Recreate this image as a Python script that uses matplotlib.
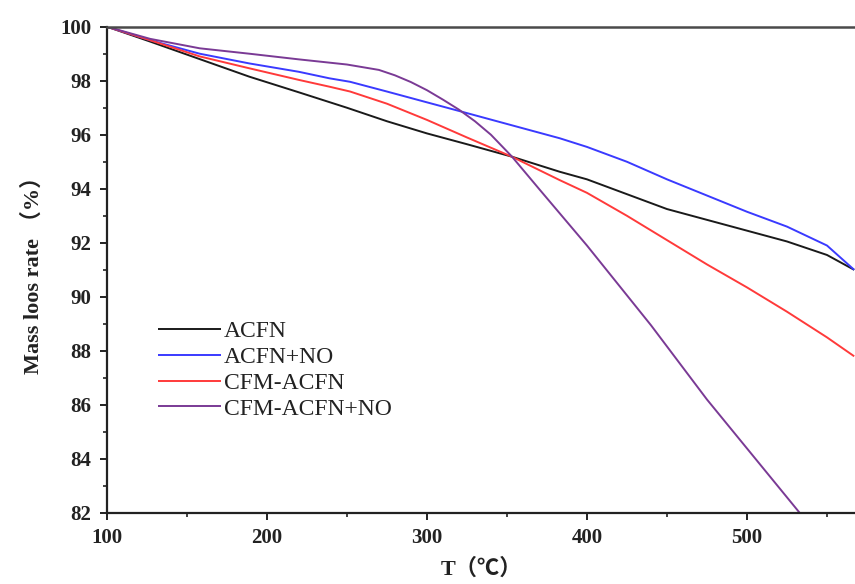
import matplotlib
matplotlib.use("Agg")
import matplotlib.pyplot as plt
from matplotlib.ticker import MultipleLocator

# Data
T_acfn = [100, 127, 158, 189, 220, 250, 275, 300, 325, 353, 383, 400, 425, 450, 475, 500, 525, 550, 567]
acfn = [100, 99.45, 98.8, 98.15, 97.57, 97.0, 96.5, 96.05, 95.65, 95.19, 94.63, 94.35, 93.8, 93.25, 92.85, 92.45, 92.05, 91.55, 91.0]

T_acfn_no = [100, 127, 158, 189, 220, 239, 252, 275, 300, 322, 350, 383, 400, 425, 450, 475, 500, 525, 550, 567]
acfn_no = [100, 99.5, 99.0, 98.64, 98.33, 98.09, 97.96, 97.6, 97.2, 96.85, 96.4, 95.87, 95.55, 95.0, 94.35, 93.75, 93.15, 92.6, 91.9, 91.0]

T_cfm = [100, 127, 158, 189, 220, 239, 252, 275, 300, 325, 353, 383, 400, 425, 450, 475, 500, 525, 550, 567]
cfm = [100, 99.5, 98.9, 98.46, 98.03, 97.78, 97.6, 97.15, 96.55, 95.9, 95.19, 94.32, 93.85, 93.0, 92.1, 91.2, 90.35, 89.45, 88.5, 87.8]

T_cfm_no = [100, 127, 158, 189, 220, 250, 270, 280, 290, 300, 310, 320, 330, 340, 353, 370, 383, 400, 440, 475, 533]
cfm_no = [100, 99.55, 99.2, 99.0, 98.79, 98.6, 98.4, 98.2, 97.95, 97.65, 97.3, 96.93, 96.5, 96.0, 95.2, 94.0, 93.09, 91.9, 88.95, 86.2, 82.0]

labels = ["ACFN", "ACFN+NO", "CFM-ACFN", "CFM-ACFN+NO"]
colors = ["#1a1a1a", "#3a3aff", "#ff3a3a", "#7a3a95"]

serif = ["Liberation Serif", "Noto Sans CJK SC", "DejaVu Serif"]
plt.rcParams['font.family'] = serif

fig = plt.figure(figsize=(8.55, 5.84), dpi=100)
ax = fig.add_axes([0.125, 0.1216, 0.875, 0.8327])

series = [(T_acfn, acfn), (T_acfn_no, acfn_no), (T_cfm, cfm), (T_cfm_no, cfm_no)]
for (x, y), lab, c in zip(series, labels, colors):
    ax.plot(x, y, color=c, lw=1.4, label=lab, solid_capstyle='butt', solid_joinstyle='round')

ax.set_xlim(100, 567.5)
ax.set_ylim(82, 100)
ax.xaxis.set_major_locator(MultipleLocator(100))
ax.xaxis.set_minor_locator(MultipleLocator(50))
ax.yaxis.set_major_locator(MultipleLocator(2))
ax.yaxis.set_minor_locator(MultipleLocator(1))

for s in ['left', 'bottom']:
    ax.spines[s].set_linewidth(1.6)
    ax.spines[s].set_color('#222222')
ax.spines['top'].set_linewidth(1.8)
ax.spines['top'].set_color('#4a4a4a')
ax.spines['right'].set_visible(False)

ax.tick_params(which='major', direction='out', length=5, width=1.4, color='#222222',
               labelsize=15, pad=6, top=False, right=False, labelcolor='#222222')
ax.tick_params(which='minor', direction='out', length=3, width=1.2, color='#222222',
               top=False, right=False)
for lbl in ax.get_xticklabels() + ax.get_yticklabels():
    lbl.set_fontweight('bold')

ax.set_xlabel("T（℃）", fontsize=16, fontweight='bold', labelpad=7, color='#222222')
ax.set_ylabel("Mass loos rate （%）", fontsize=16, fontweight='bold', labelpad=12, color='#222222')

leg = ax.legend(loc='upper left', bbox_to_anchor=(0.068, 0.395), frameon=False,
                fontsize=17, handlelength=2.7, handletextpad=0.1, labelspacing=0.18,
                borderpad=0, borderaxespad=0)
for t in leg.get_texts():
    t.set_color('#222222')

fig.savefig("out.png", dpi=100, facecolor='white')
